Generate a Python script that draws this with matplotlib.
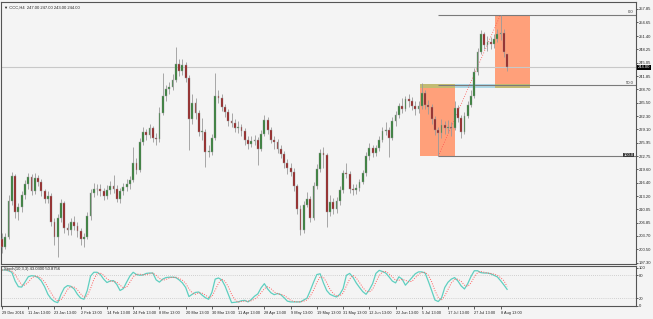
import matplotlib
matplotlib.use("Agg")
import matplotlib.pyplot as plt
from matplotlib.patches import Rectangle
import numpy as np

plt.rcParams['font.family'] = ['Liberation Sans', 'DejaVu Sans']

# CCC,H4 candles (one entry per bar)
opens = [203.0, 201.0, 203.5, 212.0, 218.0, 209.5, 210.5, 213.5, 216.0, 217.8,
         214.5, 217.5, 216.5, 214.3, 212.5, 213.3, 207.0, 203.5, 208.0, 211.5,
         205.5, 205.0, 207.0, 206.0, 204.8, 203.0, 203.5, 208.5, 214.0, 215.0,
         214.8, 214.5, 213.3, 214.6, 215.6, 215.0, 212.5, 214.4, 215.4, 216.2,
         217.0, 221.0, 219.5, 226.0, 228.5, 227.8, 229.5, 227.0, 226.8, 233.0,
         237.0, 238.7, 239.3, 241.0, 244.8, 243.0, 244.5, 241.5, 231.5, 235.5,
         233.0, 228.5, 228.5, 223.8, 223.8, 227.0, 237.0, 236.5, 234.5, 233.3,
         231.2, 230.6, 229.5, 229.8, 228.7, 226.5, 225.6, 226.4, 226.6, 224.5,
         228.0, 231.4, 229.0, 226.6, 226.0, 224.5, 223.2, 221.2, 219.8, 219.0,
         215.6, 210.0, 205.0, 211.0, 212.5, 208.0, 215.5, 219.7, 223.5, 223.0,
         209.5, 211.8, 210.0, 212.0, 214.6, 218.8, 218.5, 215.0, 214.6, 215.2,
         216.5, 218.7, 222.8, 224.7, 223.6, 224.6, 226.5, 228.8, 229.0, 227.0,
         231.0, 232.5, 234.6, 234.0, 236.4, 236.0, 234.7, 234.0, 234.6, 237.7,
         235.0, 234.5, 231.6, 229.0, 228.2, 230.2, 229.5, 229.8, 229.5, 234.3,
         231.8, 228.5, 232.4, 235.0, 237.0, 242.8, 247.5, 251.8, 249.2, 250.0,
         249.4, 250.8, 251.9, 252.2, 247.0]
highs = [204.5, 204.5, 213.5, 219.0, 218.5, 211.5, 214.5, 217.0, 218.8, 218.5,
         218.8, 218.2, 217.2, 215.0, 214.5, 214.0, 208.0, 209.0, 212.5, 212.0,
         206.8, 208.0, 208.5, 207.0, 205.5, 204.5, 209.5, 215.0, 216.3, 216.2,
         216.0, 215.2, 215.8, 216.8, 218.2, 215.8, 215.2, 216.3, 217.2, 218.0,
         224.9, 222.3, 227.0, 229.7, 229.2, 230.5, 230.0, 228.2, 234.5, 242.6,
         239.8, 240.5, 242.3, 248.8, 245.8, 245.8, 245.2, 242.0, 237.5, 236.5,
         233.8, 231.8, 229.2, 225.5, 228.0, 242.6, 238.5, 237.5, 235.2, 234.0,
         233.0, 231.5, 231.0, 230.5, 229.5, 227.5, 227.5, 227.8, 227.2, 229.0,
         232.5, 232.0, 229.8, 227.5, 226.8, 225.3, 224.0, 222.0, 221.0, 219.8,
         216.2, 211.0, 212.0, 214.2, 213.3, 216.5, 220.8, 224.5, 225.0, 223.5,
         213.5, 212.8, 213.0, 215.5, 219.5, 221.0, 219.2, 216.0, 216.2, 217.3,
         219.5, 223.8, 225.8, 225.3, 225.5, 227.5, 229.8, 230.8, 229.8, 232.0,
         233.5, 235.5, 236.5, 237.2, 237.5, 236.8, 235.8, 236.0, 240.2, 238.5,
         236.2, 235.2, 232.3, 229.8, 231.5, 231.2, 231.3, 230.8, 235.8, 235.0,
         232.5, 233.3, 236.0, 238.5, 243.8, 248.5, 252.8, 252.3, 251.5, 251.2,
         251.8, 253.0, 256.5, 253.0, 247.0]
lows = [199.5, 200.5, 203.0, 211.0, 208.0, 207.5, 209.5, 212.5, 215.0, 213.5,
        213.8, 215.5, 213.2, 211.5, 211.5, 206.0, 201.5, 198.7, 207.0, 204.5,
        203.8, 204.0, 205.0, 203.5, 201.5, 201.0, 203.0, 207.5, 213.0, 213.5,
        213.2, 212.3, 212.5, 213.8, 214.0, 211.8, 211.5, 213.5, 214.5, 215.0,
        216.5, 218.5, 219.0, 225.5, 226.5, 227.0, 226.0, 225.5, 226.0, 232.5,
        236.0, 237.5, 238.5, 240.5, 241.8, 242.0, 240.5, 224.2, 230.5, 231.5,
        227.5, 226.5, 220.1, 222.5, 223.0, 226.5, 235.5, 233.5, 232.0, 230.0,
        229.8, 228.5, 228.2, 227.5, 225.5, 224.5, 224.8, 225.5, 220.5, 224.0,
        227.5, 228.0, 225.8, 224.5, 223.5, 222.3, 219.8, 218.5, 218.0, 214.5,
        209.0, 203.9, 204.5, 210.5, 207.0, 207.5, 214.8, 219.0, 219.8, 205.8,
        208.5, 209.0, 209.2, 211.0, 214.0, 217.5, 214.0, 213.5, 213.8, 214.5,
        216.0, 218.0, 221.8, 222.5, 222.8, 224.0, 226.0, 227.8, 222.5, 226.5,
        230.0, 231.8, 233.0, 233.5, 234.5, 233.8, 232.5, 233.0, 234.0, 234.0,
        232.8, 230.5, 227.8, 222.7, 227.0, 228.0, 228.2, 227.5, 229.0, 230.8,
        227.0, 228.0, 231.8, 234.5, 236.5, 242.0, 247.0, 248.3, 247.8, 248.3,
        248.6, 250.0, 250.5, 246.5, 243.0]
closes = [201.0, 203.5, 212.0, 218.0, 209.5, 210.5, 213.5, 216.0, 217.8, 214.5,
          217.5, 216.5, 214.3, 212.5, 213.3, 207.0, 203.5, 208.0, 211.5, 205.5,
          205.0, 207.0, 206.0, 204.8, 203.0, 203.5, 208.5, 214.0, 215.0, 214.8,
          214.5, 213.3, 214.6, 215.6, 215.0, 212.5, 214.4, 215.4, 216.2, 217.0,
          221.0, 219.5, 226.0, 228.5, 227.8, 229.5, 227.0, 226.8, 233.0, 237.0,
          238.7, 239.3, 241.0, 244.8, 243.0, 244.5, 241.5, 231.5, 235.5, 233.0,
          228.5, 228.5, 223.8, 223.8, 227.0, 237.0, 236.5, 234.5, 233.3, 231.2,
          230.6, 229.5, 229.8, 228.7, 226.5, 225.6, 226.4, 226.6, 224.5, 228.0,
          231.4, 229.0, 226.6, 226.0, 224.5, 223.2, 221.2, 219.8, 219.0, 215.6,
          210.0, 205.0, 211.0, 212.5, 208.0, 215.5, 219.7, 223.5, 223.0, 209.5,
          211.8, 210.0, 212.0, 214.6, 218.8, 218.5, 215.0, 214.6, 215.2, 216.5,
          218.7, 222.8, 224.7, 223.6, 224.6, 226.5, 228.8, 229.0, 227.0, 231.0,
          232.5, 234.6, 234.0, 236.4, 236.0, 234.7, 234.0, 234.6, 237.7, 235.0,
          234.5, 231.6, 229.0, 228.2, 230.2, 229.5, 229.8, 229.5, 234.3, 231.8,
          228.5, 232.4, 235.0, 237.0, 242.8, 247.5, 251.8, 249.2, 250.0, 249.4,
          250.8, 251.9, 252.2, 247.5, 244.0]

# Stochastic(10,3,3): main and signal
stoch_main = [94, 94, 92, 88, 65, 50, 49, 62, 76, 79, 78, 74, 65, 50, 30, 18, 11, 8, 30, 47,
              53, 51, 44, 30, 20, 17, 40, 78, 88, 88, 82, 70, 61, 65, 66, 56, 40, 45, 62, 78,
              88, 82, 80, 81, 85, 86, 86, 68, 62, 70, 74, 75, 75, 74, 68, 60, 48, 24, 30, 35,
              36, 28, 21, 17, 35, 70, 73, 68, 52, 30, 8, 9, 10, 13, 14, 10, 16, 25, 31, 47,
              58, 44, 34, 29, 32, 29, 21, 12, 10, 10, 10, 10, 15, 20, 40, 62, 82, 84, 60, 40,
              30, 26, 23, 30, 45, 80, 85, 75, 60, 48, 37, 30, 42, 58, 85, 93, 90, 86, 76, 65,
              60, 76, 70, 54, 64, 74, 84, 89, 89, 86, 64, 40, 15, 11, 20, 48, 62, 70, 74, 65,
              52, 44, 58, 77, 92, 92, 87, 86, 86, 84, 80, 76, 66, 55, 43.03]
stoch_signal = [94, 94, 93, 91, 82, 68, 55, 54, 62, 72, 78, 77, 72, 63, 48, 33, 20, 12, 16, 28,
                43, 50, 49, 42, 31, 22, 26, 45, 69, 85, 86, 80, 71, 65, 64, 62, 54, 47, 49, 62,
                76, 83, 83, 81, 82, 84, 86, 80, 72, 67, 69, 73, 75, 75, 72, 67, 59, 44, 34, 30,
                34, 33, 28, 22, 24, 41, 59, 70, 64, 50, 30, 16, 9, 11, 12, 12, 13, 17, 24, 34,
                45, 50, 45, 36, 32, 30, 27, 21, 14, 11, 10, 10, 12, 15, 25, 41, 61, 76, 75, 61,
                43, 32, 26, 26, 33, 52, 70, 80, 73, 61, 48, 38, 36, 43, 62, 79, 89, 90, 84, 76,
                67, 67, 69, 67, 63, 64, 74, 82, 87, 88, 80, 63, 40, 22, 15, 26, 43, 60, 69, 70,
                64, 54, 51, 60, 76, 87, 90, 88, 86, 85, 83, 80, 74, 66, 50.88]

price_ticks = [257.85, 254.65, 251.40, 248.25, 245.05, 241.85, 238.70, 235.50, 232.30, 229.10,
               225.95, 222.75, 219.60, 216.40, 213.20, 210.05, 206.85, 203.70, 200.50, 197.30]
time_labels = ["29 Dec 2016", "11 Jan 13:00", "23 Jan 13:00", "2 Feb 13:00", "14 Feb 13:00",
               "24 Feb 13:00", "8 Mar 13:00", "20 Mar 13:00", "30 Mar 13:00", "11 Apr 13:00",
               "28 Apr 13:00", "9 May 13:00", "19 May 13:00", "31 May 13:00", "12 Jun 13:00",
               "22 Jun 13:00", "5 Jul 13:00", "17 Jul 13:00", "27 Jul 13:00", "8 Aug 13:00"]

# drawn objects (bar index / price)
zones = [(127.4, 138.1, 222.7, 239.9), (150.3, 161.0, 239.5, 256.5)]
band = (127.4, 161.0, 239.0, 240.0)
fib_start, fib_low, fib_high = 133, 222.7, 256.5
fib_end = 152
last_price = 244.00

BG = "#f4f4f4"
FS = 3.0
W, H = 653, 319
fig = plt.figure(figsize=(W / 100, H / 100), dpi=100, facecolor=BG)
ax = fig.add_axes([1 / W, 55 / H, 635 / W, 262 / H], facecolor=BG)
ax2 = fig.add_axes([1 / W, 13 / H, 635 / W, 40 / H], facecolor=BG, sharex=ax)

idx = np.arange(len(closes))
o = np.array(opens); c = np.array(closes)

# objects behind the candles
for x0, x1, y0, y1 in zones:
    ax.add_patch(Rectangle((x0, y0), x1 - x0, y1 - y0, color="#ffa07a", lw=0, zorder=1))
ax.add_patch(Rectangle((band[0], band[2]), band[1] - band[0], band[3] - band[2],
                       color="#add8e6", lw=0, zorder=1.5))
for x0, x1, y0, y1 in zones:
    if y0 <= band[3] and y1 >= band[2]:
        ax.add_patch(Rectangle((x0, band[2]), x1 - x0, band[3] - band[2],
                               color="#c2bb72", lw=0, zorder=1.6))

ax.axhline(last_price, color="#c8c8c8", lw=0.8, zorder=1)
fib_mid = (fib_low + fib_high) / 2
for lvl, txt in [(fib_high, "0.0"), (fib_mid, "50.0")]:
    ax.hlines(lvl, fib_start, 200, color="#7a7a7a", lw=0.8, zorder=2)
    ax.text(192.6, lvl + 0.2, txt, fontsize=FS, ha="right", va="bottom", color="#333333")
ax.hlines(fib_low, fib_start, 200, color="#7a7a7a", lw=0.8, zorder=2)
ax.text(192.6, fib_low + 0.3, "100.0", fontsize=FS, ha="right", va="center", color="white",
        bbox=dict(boxstyle="square,pad=0.1", fc="#3a3a3a", ec="none"))
ax.plot([fib_start, fib_end], [fib_low, fib_high], color="#ff5050", lw=0.6, ls=(0, (1, 2)), zorder=2)

# candles
up = c >= o
ax.vlines(idx, lows, highs, color="#9a9a9a", lw=0.6, zorder=3)
body = np.maximum(np.abs(c - o), 0.15)
ax.bar(idx, body, bottom=np.minimum(o, c), width=0.55,
       color=np.where(up, "#2e7d32", "#961d1d"), edgecolor="#9a9a9a", linewidth=0.3, zorder=4)

ax.set_xlim(-0.3, 193.3)
ax.set_ylim(196.99, 259.52)
ax.yaxis.tick_right()
ax.set_yticks(price_ticks)
ax.set_yticklabels([f"{v:.2f}" for v in price_ticks])
ax.tick_params(axis="y", labelsize=FS, length=1.5, width=0.5, pad=0.8, colors="#222222")
ax.tick_params(axis="x", bottom=False, labelbottom=False)
ax.text(193.8, last_price, f"{last_price:.2f}", fontsize=FS, color="white", va="center",
        ha="left", bbox=dict(boxstyle="square,pad=0.12", fc="black", ec="none"), clip_on=False)
ax.text(0.004, 0.985, "\u25bc CCC,H4  247.00 247.00 243.00 244.00", transform=ax.transAxes,
        fontsize=FS, va="top", ha="left", color="#222222")

# stochastic window
ax2.axhline(80, color="#b0b0b0", lw=0.5, ls=(0, (1, 2)))
ax2.axhline(20, color="#b0b0b0", lw=0.5, ls=(0, (1, 2)))
ax2.plot(idx, stoch_main, color="#5fcfc0", lw=0.9)
ax2.plot(idx, stoch_signal, color="#ff6060", lw=0.7, ls=(0, (1, 1.5)))
ax2.set_ylim(-0.8, 104.5)
ax2.yaxis.tick_right()
ax2.set_yticks([100, 80, 20, 0])
ax2.tick_params(axis="y", labelsize=FS, length=1.5, width=0.5, pad=0.8, colors="#222222")
ax2.text(0.004, 0.97, "Stoch(10,3,3) 43.0300 50.8756", transform=ax2.transAxes,
         fontsize=FS, va="top", ha="left", color="#222222")

ax2.set_xticks(np.arange(0, 153, 8))
ax2.set_xticklabels(time_labels, ha="left")
ax2.tick_params(axis="x", labelsize=2.8, length=2, width=0.5, pad=1.5, colors="#222222")

for a in (ax, ax2):
    for s in a.spines.values():
        s.set_color("#555555")
        s.set_linewidth(0.8)

fig.savefig("out.png", dpi=100, facecolor=BG)
